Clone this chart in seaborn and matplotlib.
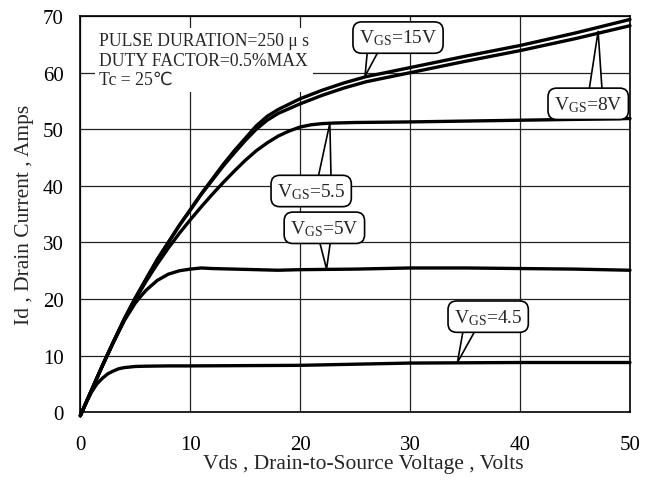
import numpy as np
import pandas as pd
import matplotlib
matplotlib.use("Agg")
import matplotlib.pyplot as plt
import seaborn as sns

# ---- data (Vds in volts, Id in amps) ----
vds_15 = [0, 1, 2, 3, 4, 5, 6, 7, 8, 9, 10, 11, 12, 13, 14, 15, 16, 17, 18, 20, 22, 24, 26, 28, 30, 35, 40, 45, 50]
id_15 = [-0.6, 3.8, 8.2, 12.4, 16.5, 20.2, 23.6, 27.0, 30.0, 33.0, 35.8, 38.6, 41.2, 43.8, 46.2, 48.4, 50.6, 52.3, 53.5,
         55.4, 56.9, 58.2, 59.3, 60.1, 60.9, 62.9, 64.8, 67.0, 69.4]

vds_8 = [0, 1, 2, 3, 4, 5, 6, 7, 8, 9, 10, 11, 12, 13, 14, 15, 16, 17, 18, 20, 22, 24, 26, 28, 30, 35, 40, 45, 50]
id_8 = [-0.6, 3.8, 8.2, 12.4, 16.5, 20.2, 23.6, 27.0, 30.0, 33.0, 35.7, 38.5, 41.0, 43.5, 45.8, 48.0, 50.0, 51.6, 52.8,
        54.5, 56.0, 57.3, 58.4, 59.2, 60.0, 62.0, 63.9, 66.0, 68.3]

vds_55 = [0, 1, 2, 3, 4, 5, 6, 7, 8, 9, 10, 11, 12, 13, 14, 15, 16, 17, 18, 19, 20, 21, 22, 23, 25, 30, 40, 50]
id_55 = [-0.6, 3.8, 8.2, 12.4, 16.3, 19.9, 23.2, 26.2, 29.0, 31.6, 34.0, 36.3, 38.5, 40.6, 42.6, 44.5, 46.2, 47.6,
         48.8, 49.7, 50.4, 50.8, 51.0, 51.1, 51.2, 51.3, 51.6, 51.9]

vds_5 = [0, 1, 2, 3, 4, 5, 5.5, 6, 7, 8, 9, 10, 11, 12, 14, 16, 18, 20, 25, 30, 35, 40, 45, 50]
id_5 = [-0.6, 3.8, 8.2, 12.3, 16.2, 19.3, 20.5, 21.6, 23.3, 24.4, 25.0, 25.3, 25.5, 25.4, 25.3, 25.2, 25.1, 25.2,
        25.3, 25.5, 25.5, 25.4, 25.3, 25.1]

vds_45 = [0, 0.5, 1, 1.5, 2, 2.5, 3, 3.5, 4, 5, 6, 8, 10, 15, 20, 25, 30, 35, 40, 45, 50]
id_45 = [-0.6, 1.6, 3.5, 5.0, 6.0, 6.8, 7.3, 7.7, 7.9, 8.1, 8.15, 8.2, 8.2, 8.25, 8.3, 8.5, 8.7, 8.75, 8.8, 8.8, 8.8]

curve_names = ["15V", "8V", "5.5", "5V", "4.5"]

# callout labels: text, box centre, tip on the curve, where the tail leaves the box
callout_text = [r"V$_{\mathrm{GS}}$=15V", r"V$_{\mathrm{GS}}$=8V", r"V$_{\mathrm{GS}}$=5.5",
                r"V$_{\mathrm{GS}}$=5V", r"V$_{\mathrm{GS}}$=4.5"]
callout_box = [(28.9, 66.2), (46.2, 54.5), (21.0, 39.1), (22.2, 32.6), (37.1, 16.9)]
callout_tip = [(25.9, 59.4), (47.1, 67.3), (22.7, 51.1), (22.4, 25.3), (34.3, 8.8)]
callout_rel = [(0.22, 0.4), (0.6, 0.6), (0.68, 0.6), (0.5, 0.4), (0.28, 0.4)]

info_text = "PULSE DURATION=250 \u03bc s\nDUTY FACTOR=0.5%MAX\nTc = 25\u2103"

# long table for seaborn
frames = []
for name, xs, ys in zip(curve_names,
                        [vds_15, vds_8, vds_55, vds_5, vds_45],
                        [id_15, id_8, id_55, id_5, id_45]):
    frames.append(pd.DataFrame({"Vds": xs, "Id": ys, "VGS": name}))
df = pd.concat(frames, ignore_index=True)

# ---- style ----
sns.set_style("white")
plt.rcParams["font.family"] = ["Liberation Serif", "DejaVu Sans"]
plt.rcParams["mathtext.fontset"] = "custom"
plt.rcParams["mathtext.rm"] = "Liberation Serif"
plt.rcParams["mathtext.it"] = "Liberation Serif:italic"

fig = plt.figure(figsize=(6.54, 4.85), dpi=100)
ax = fig.add_axes([0.1228, 0.1478, 0.8405, 0.817])

sns.lineplot(data=df, x="Vds", y="Id", hue="VGS", units="VGS", estimator=None, sort=False,
             palette=["black"] * 5, linewidth=2.4, legend=False, ax=ax, clip_on=False, zorder=3)

ax.set_xlim(0, 50)
ax.set_ylim(0, 70)
ax.set_xticks(range(0, 51, 10))
ax.set_yticks(range(0, 71, 10))
ax.grid(True, color="#222222", linewidth=0.9)
ax.set_axisbelow(True)
for s in ax.spines.values():
    s.set_color("black")
    s.set_linewidth(1.2)
ax.tick_params(axis="both", length=0, labelsize=15, colors="black")
ax.tick_params(axis="x", pad=16)
ax.tick_params(axis="y", pad=12)

ax.set_xlabel("Vds , Drain-to-Source Voltage , Volts", fontsize=15.5, labelpad=0)
ax.xaxis.label.set_x(0.515)
ax.set_ylabel("Id , Drain Current , Amps", fontsize=15.5, labelpad=6)

ax.text(1.7, 67.2, info_text, fontsize=12.7, va="top", ha="left", linespacing=1.2,
        bbox=dict(boxstyle="square,pad=0.2", fc="white", ec="none"), zorder=4)

for txt, box, tip, rel in zip(callout_text, callout_box, callout_tip, callout_rel):
    ax.annotate(txt, xy=tip, xytext=box, ha="center", va="center", fontsize=14, zorder=5,
                bbox=dict(boxstyle="round,pad=0.3,rounding_size=0.45", fc="white", ec="black", lw=1.2),
                arrowprops=dict(arrowstyle="wedge,tail_width=0.8,shrink_factor=0.5", fc="white",
                                ec="black", lw=1.2, relpos=rel, patchA=None, shrinkA=0, shrinkB=0))

fig.savefig("out.png", dpi=100)
